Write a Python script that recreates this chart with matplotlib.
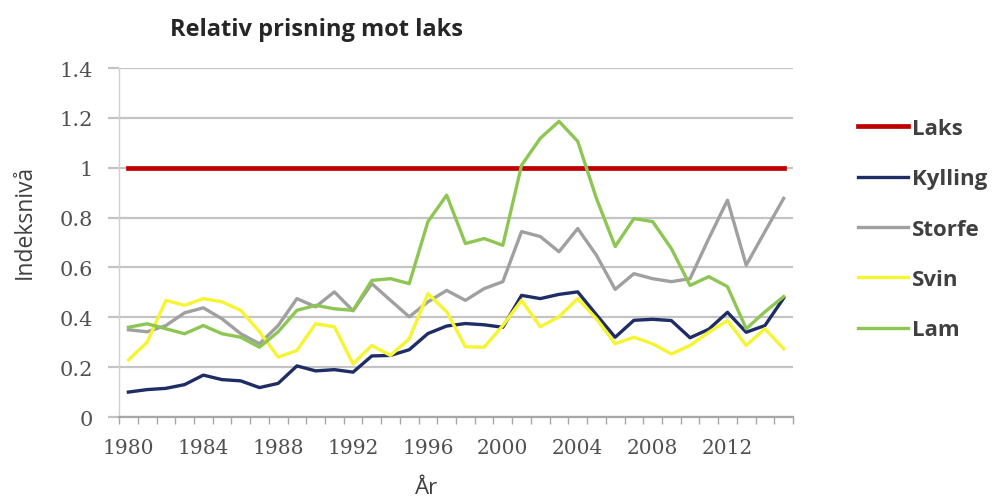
from matplotlib import pyplot as plt
import numpy as np

# Relative price index vs. salmon, 1980-2015
years = list(range(1980, 2016))
laks = [1.0] * len(years)
kylling = [0.10, 0.11, 0.115, 0.13, 0.168, 0.15, 0.145, 0.118, 0.135, 0.205,
           0.185, 0.19, 0.18, 0.245, 0.247, 0.27, 0.335, 0.365, 0.375, 0.37,
           0.36, 0.488, 0.475, 0.492, 0.502, 0.41, 0.32, 0.388, 0.392, 0.387,
           0.318, 0.352, 0.42, 0.34, 0.367, 0.477]
storfe = [0.35, 0.342, 0.367, 0.418, 0.438, 0.394, 0.334, 0.294, 0.367, 0.475,
          0.442, 0.502, 0.426, 0.535, 0.468, 0.402, 0.462, 0.508, 0.468, 0.515,
          0.543, 0.744, 0.724, 0.663, 0.756, 0.649, 0.512, 0.575, 0.555, 0.543,
          0.555, 0.716, 0.87, 0.609, 0.744, 0.877]
svin = [0.229, 0.30, 0.468, 0.448, 0.475, 0.462, 0.428, 0.342, 0.24, 0.267,
        0.374, 0.362, 0.213, 0.287, 0.247, 0.314, 0.495, 0.422, 0.282, 0.28,
        0.367, 0.468, 0.362, 0.402, 0.475, 0.394, 0.294, 0.32, 0.294, 0.253,
        0.287, 0.34, 0.387, 0.287, 0.354, 0.274]
lam = [0.36, 0.374, 0.354, 0.334, 0.367, 0.334, 0.32, 0.28, 0.342, 0.428,
       0.448, 0.434, 0.428, 0.548, 0.555, 0.535, 0.784, 0.89, 0.696, 0.716,
       0.689, 1.01, 1.118, 1.186, 1.106, 0.877, 0.684, 0.796, 0.784, 0.676,
       0.528, 0.563, 0.523, 0.354, 0.422, 0.483]

series = [("Laks", laks, "#C00000", 3.4),
          ("Kylling", kylling, "#1F2D66", 2.4),
          ("Storfe", storfe, "#A0A0A0", 2.4),
          ("Svin", svin, "#F5F532", 2.4),
          ("Lam", lam, "#8DC653", 2.4)]

yticks = [0, 0.2, 0.4, 0.6, 0.8, 1.0, 1.2, 1.4]
yticklabels = ["0", "0.2", "0.4", "0.6", "0.8", "1", "1.2", "1.4"]
xticks = list(range(1980, 2016, 4))

fig = plt.figure(figsize=(9.98, 5.02), dpi=100)
ax = fig.add_axes([0.1193, 0.1673, 0.6753, 0.6952])

for name, vals, col, lw in series:
    ax.plot(years, vals, color=col, lw=lw, label=name, solid_joinstyle="round")

ax.set_xlim(1979.5, 2015.5)
ax.set_ylim(0, 1.4)
ax.set_yticks(yticks)
ax.set_yticklabels(yticklabels, family="DejaVu Serif", fontsize=15, color="#505050")
ax.yaxis.grid(True, color="#C4C4C4", lw=1.6)
ax.set_axisbelow(True)

ax.set_xticks(xticks)
ax.set_xticklabels([str(y) for y in xticks], family="DejaVu Serif", fontsize=14.5, color="#505050")
ax.set_xticks(np.arange(1979.5, 2016, 1.0), minor=True)
ax.tick_params(axis="x", which="major", length=0, pad=15)
ax.tick_params(axis="x", which="minor", length=5, width=1, color="#A6A6A6", direction="out")
ax.tick_params(axis="y", length=8, width=1.6, color="#C4C4C4", pad=11)

for s in ["top", "right"]:
    ax.spines[s].set_visible(False)
ax.spines["left"].set_color("#D0D0D0")
ax.spines["left"].set_linewidth(1)
ax.spines["bottom"].set_color("#A6A6A6")
ax.spines["bottom"].set_linewidth(1.6)

fig.text(317 / 998, 1 - 30 / 502, "Relativ prisning mot laks", family="Open Sans",
         fontweight="bold", fontsize=17, color="#262626", ha="center", va="center")
fig.text(25 / 998, 1 - 222 / 502, "Indeksnivå", family="Open Sans", fontsize=16.5,
         color="#404040", rotation=90, ha="center", va="center")
fig.text(427 / 998, 1 - 489 / 502, "År", family="Open Sans", fontsize=16,
         color="#404040", ha="center", va="center")

leg = ax.legend(loc="upper left", bbox_to_anchor=(838 / 998, 1 - 99 / 502),
                bbox_transform=fig.transFigure, frameon=False,
                handlelength=2.25, handletextpad=0.18, labelspacing=1.32,
                prop={"family": "Open Sans", "weight": "bold", "size": 16})
for t in leg.get_texts():
    t.set_color("#404040")

fig.savefig("out.png", dpi=100)
